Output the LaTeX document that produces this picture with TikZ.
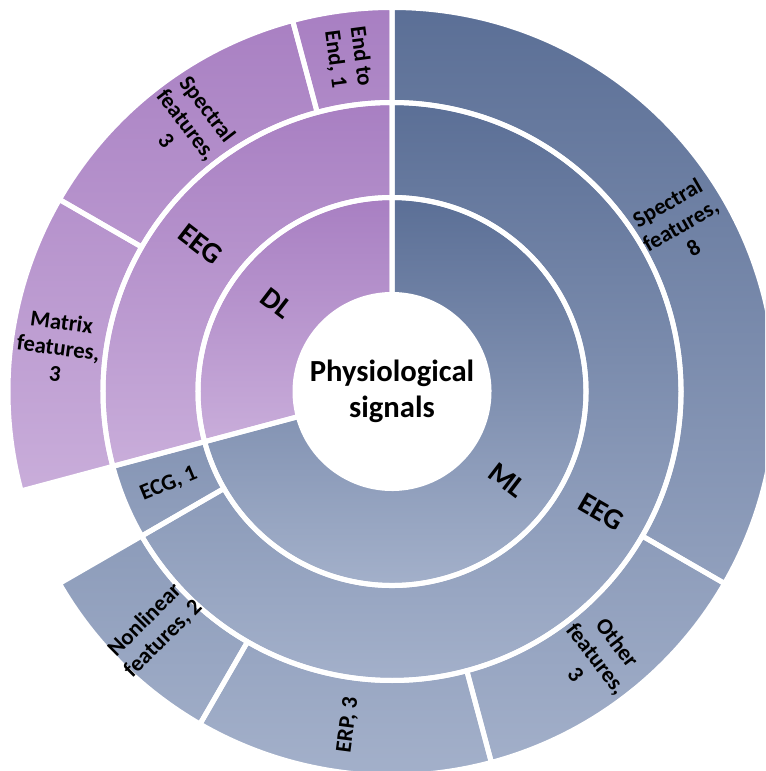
\documentclass[tikz,border=0pt]{standalone}
\usepackage{fontspec}
\setmainfont{Carlito}
\definecolor{bluetop}{HTML}{5B6F96}
\definecolor{bluebot}{HTML}{A3B0CA}
\definecolor{purpletop}{HTML}{A87FC2}
\definecolor{purplebot}{HTML}{DCC8E8}
% ring sector: inner radius, outer radius, start angle, end angle
\newcommand{\sectorpath}[4]{(#3:#1) arc[start angle=#3, end angle=#4, radius=#1] -- (#4:#2) arc[start angle=#4, end angle=#3, radius=#2] -- cycle}

\begin{document}
\begin{tikzpicture}[
    x=0.75pt, y=0.75pt,
    blue ring/.style={top color=bluetop, bottom color=bluebot},
    purple ring/.style={top color=purpletop, bottom color=purplebot},
    gap line/.style={draw=white, line width=3.75pt, line join=round},
    ring label/.style={font=\fontsize{22}{26}\selectfont\bfseries, align=center},
    leaf label/.style={font=\fontsize{17}{19.5}\selectfont\bfseries, align=center}
]
    % frame of the picture
    \useasboundingbox (-392,-379.5) rectangle (373,391.5);
    \clip (-392,-379.5) rectangle (373,391.5);
    \fill[white] (-392,-379.5) rectangle (373,391.5);

    % blue sectors (ML)
    \foreach \rin/\rout/\from/\to in {97/194/-165/90, 194/289/-150/90, 194/289/-165/-150,
        289/384/-30/90, 289/384/-75/-30, 289/384/-120/-75, 289/384/-150/-120}{
        \begin{scope}
            \clip \sectorpath{\rin}{\rout}{\from}{\to};
            \shade[blue ring] (-\rout,-\rout) rectangle (\rout,\rout);
        \end{scope}
    }
    % purple sectors (DL)
    \foreach \rin/\rout/\from/\to in {97/194/90/195, 194/289/90/195,
        289/384/150/195, 289/384/105/150, 289/384/90/105}{
        \begin{scope}
            \clip \sectorpath{\rin}{\rout}{\from}{\to};
            \shade[purple ring] (-\rout,-\rout) rectangle (\rout,\rout);
        \end{scope}
    }
    % white gaps
    \foreach \rin/\rout/\from/\to in {97/194/-165/90, 194/289/-150/90, 194/289/-165/-150,
        289/384/-30/90, 289/384/-75/-30, 289/384/-120/-75, 289/384/-150/-120,
        97/194/90/195, 194/289/90/195, 289/384/150/195, 289/384/105/150, 289/384/90/105}{
        \draw[gap line] \sectorpath{\rin}{\rout}{\from}{\to};
    }

    % labels
    \node[font=\fontsize{23}{27}\selectfont\bfseries, align=center] (centre) at (0,0) {Physiological\\signals};
    \node[ring label, rotate=-37.5] (dl) at (142.5:145.5) {DL};
    \node[ring label, rotate=-37.5] (ml) at (-37.5:145.5) {ML};
    \node[ring label, rotate=-37.5] (eegdl) at (142.5:241.5) {EEG};
    \node[ring label, rotate=-30] (eegml) at (-30:241.5) {EEG};
    \node[leaf label, rotate=22.5] (ecg) at (202.5:241.5) {ECG, 1};
    \node[leaf label, rotate=30] (spectralml) at (30:333) {Spectral\\features,\\8};
    \node[leaf label, rotate=-52.5] (other) at (-52.5:336.5) {Other\\features,\\3};
    \node[leaf label, rotate=82.5] (erp) at (-97.5:336.5) {ERP, 3};
    \node[leaf label, rotate=45] (nonlinear) at (-135:336.5) {Nonlinear\\features, 2};
    \node[leaf label, rotate=-7.5] (matrix) at (172.5:336.5) {Matrix\\features,\\3};
    \node[leaf label, rotate=-52.5] (spectraldl) at (127.5:336.5) {Spectral\\features,\\3};
    \node[leaf label, rotate=-82.5] (endtoend) at (97.5:336.5) {End to\\End, 1};
\end{tikzpicture}
\end{document}
